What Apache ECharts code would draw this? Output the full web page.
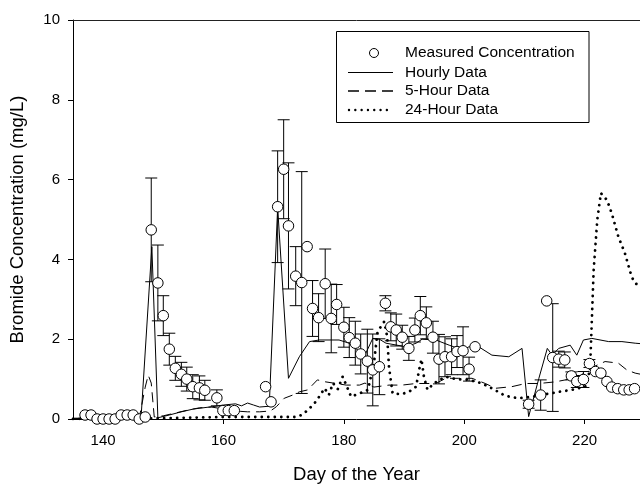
<!DOCTYPE html>
<html>
<head>
<meta charset="utf-8">
<script src="https://cdn.jsdelivr.net/npm/echarts@6/dist/echarts.min.js"></script>
<style>
html,body{margin:0;padding:0;background:#fff;}
#chart{width:640px;height:485px;}
</style>
</head>
<body>
<div id="chart"></div>
<script>
var xTicks = [140, 160, 180, 200, 220];
var yTicks = [0, 2, 4, 6, 8, 10];

var measuredDays = [137,138,139,140,141,142,143,144,145,146,147,148,149.1,150,151,152,153,153.9,154.9,156,156.9,158.9,159.9,160.8,161.8,167,167.9,169,170,170.8,172,173,173.9,174.8,175.8,176.9,177.9,178.8,180,180.9,181.9,182.8,183.9,184.8,185.9,186.9,187.8,188.7,189.7,190.8,191.8,192.7,193.7,194.8,195.8,196.8,197.9,198.8,199.8,200.8,201.8,210.7,212.7,213.7,214.7,215.7,216.7,217.8,218.7,219.8,220.8,221.8,222.7,223.7,224.5,225.5,226.5,227.4,228.3];
var measuredValues = [0.1,0.1,0,0,0,0,0.1,0.1,0.1,0,0.05,4.74,3.41,2.59,1.75,1.27,1.12,1.0,0.81,0.78,0.72,0.53,0.21,0.21,0.21,0.81,0.43,5.32,6.26,4.84,3.58,3.42,4.32,2.77,2.54,3.39,2.52,2.87,2.30,2.04,1.90,1.63,1.45,1.23,1.31,2.90,2.31,2.23,2.05,1.77,2.23,2.59,2.41,2.05,1.50,1.56,1.56,1.69,1.71,1.25,1.81,0.37,0.60,2.96,1.54,1.50,1.48,1.08,0.94,0.99,1.39,1.19,1.15,0.94,0.80,0.76,0.73,0.73,0.76];
var measuredErrors = [0,0,0,0,0,0,0,0,0,0,0,1.3,0.95,0.5,0.4,0.3,0.3,0.3,0.3,0.3,0.25,0.2,0,0,0,0,0,1.4,1.24,1.58,0.74,2.78,0,0.7,0.6,0.87,0.86,0.5,0.5,0.5,0.55,0.5,0.8,0.9,0.7,0.19,0.35,0.4,0.3,0.3,0.3,0.48,0.4,0.4,0.62,0.5,0.45,0.4,0.6,0.3,0,0.1,0.38,0,1.35,0.2,0.2,0.1,0.15,0.2,0.1,0,0,0,0,0,0,0,0];

var hourlyDays = [135,146.3,148.1,149.1,151,153,155,158.2,160,162,163,164,165,166,167.6,169.0,170.8,172.6,174.3,175.9,179.2,180.9,182.6,183.5,184.8,185.9,187,190.3,192,193,195.3,197.5,199.7,200.8,202.4,204.6,207.4,209.6,210.7,212.4,213.8,214.6,215.7,217.6,218.7,219.8,221.2,224,226.2,228.4,230];
var hourlyValues = [0.02,0.02,4.32,0.03,0.1,0.18,0.25,0.31,0.35,0.38,0.33,0.4,0.35,0.3,0.32,5.3,1.02,1.56,1.94,1.98,1.98,1.9,1.69,1.6,2.02,2.0,1.9,1.81,1.9,2.0,1.98,1.85,1.73,1.81,1.81,1.6,1.56,1.77,0.06,1.02,1.77,1.6,1.77,1.85,1.6,1.98,2.02,1.94,1.94,1.9,1.88];

var fiveHourDays = [135,146.0,147.0,147.5,148.0,148.5,150,152,154,156,158,160,162,164,166,167.8,168.8,170.1,171.5,172.6,174,175.6,177,178.7,180.4,182.6,183.5,185,187.5,189.7,192,195.3,196.9,199.1,201.3,203.5,205.2,207.9,210.2,212.4,215.1,216.8,219,221.5,223.4,225.6,227,228.4,230];
var fiveHourValues = [0.01,0.02,0.8,1.1,0.9,0.05,0.08,0.15,0.22,0.28,0.3,0.25,0.2,0.18,0.18,0.2,0.31,0.52,0.6,0.68,0.73,0.98,0.93,0.89,0.85,0.85,0.9,0.8,0.85,0.85,0.89,0.89,1.02,1.02,1.02,0.89,0.77,0.81,0.89,0.89,0.93,0.98,1.06,1.31,1.44,1.4,1.23,1.15,1.1];

var dailyDays = [135,150,160,170,172,173,174,175.1,175.9,176.8,177.5,178.2,179,179.8,180.4,181.2,182.6,184,185,185.6,186.7,187.2,187.5,188.1,189.5,190.8,192,192.5,192.9,193.3,193.9,195,196.9,198.6,200.8,203,204.6,206.8,209,211.3,213.5,215.7,217.9,220.1,220.9,221.2,221.5,222.1,222.7,223.7,224.5,225.6,226.7,227.8,228.4,229.1,230];
var dailyValues = [0.0,0.02,0.05,0.05,0.05,0.1,0.22,0.39,0.56,0.77,0.6,0.9,0.75,1.06,0.85,0.56,0.64,0.73,1.4,2.19,2.44,2.06,1.3,0.64,0.62,0.68,0.81,1.23,1.5,1.06,0.73,0.9,1.06,1.0,0.98,0.89,0.77,0.58,0.52,0.56,0.62,0.68,0.73,0.81,1.23,2.48,3.73,4.99,5.66,5.49,5.16,4.57,4.15,3.57,3.40,3.35,3.5];

function pairs(a, b) { return a.map(function (d, i) { return [d, b[i]]; }); }

var errorData = measuredDays.map(function (d, i) {
  return [d, measuredValues[i] - measuredErrors[i], measuredValues[i] + measuredErrors[i], measuredErrors[i]];
}).filter(function (r) { return r[3] > 0; });

var FONT = 'Liberation Sans, Arial, sans-serif';
var chart = echarts.init(document.getElementById('chart'), null, {renderer: 'canvas'});

var lx1 = 348, lx2 = 393, tx = 405;
var legendRows = [53, 72.5, 91, 110];

chart.setOption({
  animation: false,
  backgroundColor: '#fff',
  grid: {left: 73, top: 20, right: 0, bottom: 66, containLabel: false, outerBoundsMode: 'none'},
  xAxis: [{
    type: 'value', min: 135, max: 229.2, position: 'bottom',
    name: 'Day of the Year', nameLocation: 'middle', nameGap: 46,
    nameTextStyle: {fontFamily: FONT, fontSize: 18.5, color: '#000'},
    axisLine: {show: true, lineStyle: {color: '#000', width: 1}},
    axisTick: {show: true, inside: false, length: 5, customValues: xTicks, lineStyle: {color: '#000'}},
    axisLabel: {show: true, margin: 14, customValues: xTicks, fontFamily: FONT, fontSize: 15, color: '#000'},
    splitLine: {show: false}
  }, {
    type: 'value', min: 135, max: 229.2, position: 'top',
    axisLine: {show: true, onZero: false, lineStyle: {color: '#222', width: 1}},
    axisTick: {show: false}, axisLabel: {show: false}, splitLine: {show: false}
  }],
  yAxis: {
    type: 'value', min: 0, max: 10, interval: 2,
    name: 'Bromide Concentration (mg/L)', nameLocation: 'middle', nameGap: 46,
    nameTextStyle: {fontFamily: FONT, fontSize: 18.5, color: '#000'},
    axisLine: {show: true, lineStyle: {color: '#000', width: 1}},
    axisTick: {show: true, inside: false, length: 5, lineStyle: {color: '#000'}},
    axisLabel: {show: true, margin: 13, fontFamily: FONT, fontSize: 15, color: '#000'},
    splitLine: {show: false}
  },
  series: [
    {
      name: 'Error', type: 'custom', data: errorData, clip: true, z: 2,
      renderItem: function (params, api) {
        var x = api.value(0);
        var lo = api.coord([x, api.value(1)]);
        var hi = api.coord([x, api.value(2)]);
        var w = 6;
        var st = {stroke: '#000', lineWidth: 1};
        return {type: 'group', children: [
          {type: 'line', shape: {x1: hi[0], y1: hi[1], x2: lo[0], y2: lo[1]}, style: st},
          {type: 'line', shape: {x1: hi[0] - w, y1: hi[1], x2: hi[0] + w, y2: hi[1]}, style: st},
          {type: 'line', shape: {x1: lo[0] - w, y1: lo[1], x2: lo[0] + w, y2: lo[1]}, style: st}
        ]};
      }
    },
    {
      name: 'Hourly Data', type: 'line', data: pairs(hourlyDays, hourlyValues), showSymbol: false, symbol: 'none',
      lineStyle: {color: '#000', width: 1, type: 'solid'}, z: 3, clip: true
    },
    {
      name: '5-Hour Data', type: 'line', data: pairs(fiveHourDays, fiveHourValues), showSymbol: false, symbol: 'none',
      lineStyle: {color: '#000', width: 1, type: [10, 6]}, z: 3, clip: true
    },
    {
      name: '24-Hour Data', type: 'line', data: pairs(dailyDays, dailyValues), showSymbol: false, symbol: 'none',
      lineStyle: {color: '#000', width: 2.8, type: [0.01, 6.5], cap: 'round'}, z: 3, clip: true
    },
    {
      name: 'Measured Concentration', type: 'scatter', data: pairs(measuredDays, measuredValues),
      symbol: 'circle', symbolSize: 10.5,
      itemStyle: {color: '#fff', borderColor: '#000', borderWidth: 1, opacity: 1}, z: 5, clip: true
    }
  ],
  graphic: [
    {type: 'rect', shape: {x: 336.5, y: 31.5, width: 252.5, height: 91}, style: {fill: '#fff', stroke: '#000', lineWidth: 1}, z: 10},
    {type: 'circle', shape: {cx: 374, cy: legendRows[0], r: 4.5}, style: {fill: '#fff', stroke: '#000', lineWidth: 1}, z: 11},
    {type: 'line', shape: {x1: lx1, y1: legendRows[1], x2: lx2, y2: legendRows[1]}, style: {stroke: '#000', lineWidth: 1}, z: 11},
    {type: 'line', shape: {x1: lx1, y1: legendRows[2], x2: lx2, y2: legendRows[2]}, style: {stroke: '#000', lineWidth: 1.3, lineDash: [11, 6]}, z: 11},
    {type: 'line', shape: {x1: lx1 + 1, y1: legendRows[3], x2: lx2, y2: legendRows[3]}, style: {stroke: '#000', lineWidth: 2.4, lineDash: [0.01, 6.3], lineCap: 'round'}, z: 11},
    {type: 'text', x: tx, y: legendRows[0], style: {text: 'Measured Concentration', font: '15.5px ' + FONT, fill: '#000', verticalAlign: 'middle'}, z: 11},
    {type: 'text', x: tx, y: legendRows[1], style: {text: 'Hourly Data', font: '15.5px ' + FONT, fill: '#000', verticalAlign: 'middle'}, z: 11},
    {type: 'text', x: tx, y: legendRows[2], style: {text: '5-Hour Data', font: '15.5px ' + FONT, fill: '#000', verticalAlign: 'middle'}, z: 11},
    {type: 'text', x: tx, y: legendRows[3], style: {text: '24-Hour Data', font: '15.5px ' + FONT, fill: '#000', verticalAlign: 'middle'}, z: 11}
  ]
});
</script>
</body>
</html>
